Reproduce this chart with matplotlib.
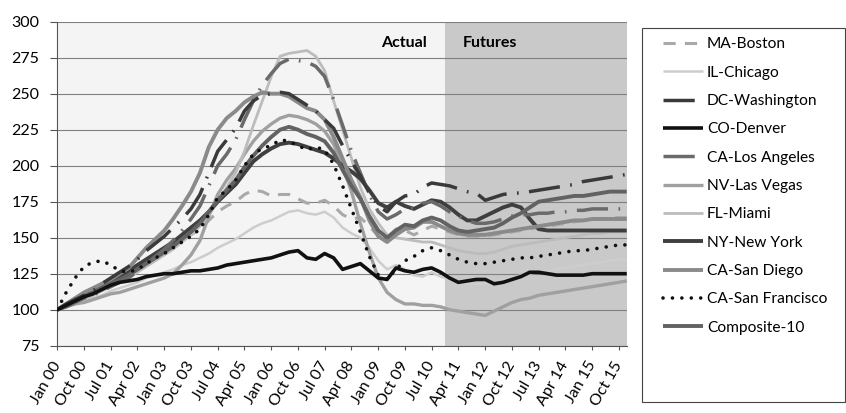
import numpy as np
import pandas as pd
import matplotlib
matplotlib.use("Agg")
import matplotlib.pyplot as plt
from matplotlib.patches import Rectangle

plt.rcParams["font.family"] = ["Lato", "DejaVu Sans"]

# ── Dates: quarterly Jan 2000 .. Oct 2015, last point at the right edge ──────
DATES = list(pd.date_range("2000-01-01", "2015-10-01", freq="QS")) + [pd.Timestamp("2015-12-20")]
FUTURES_START = pd.Timestamp("2010-11-10")
TICK_DATES = pd.date_range("2000-01-01", periods=22, freq="9MS")
TICK_LABELS = [d.strftime("%b %y") for d in TICK_DATES]

# ── Index values (Jan 2000 = 100), one row per year, 4 quarters ──────────────
boston = [100, 104, 108, 111,  114, 118, 121, 124,  127, 131, 134, 137,  140, 144, 148, 152,
          156, 162, 168, 172,  175, 180, 183, 182,  179, 180, 180, 177,  174, 174, 176, 172,
          166, 163, 164, 158,  151, 150, 156, 155,  152, 155, 158, 156,  154, 152, 151, 151,
          151, 152, 153, 154,  155, 156, 157, 158,  159, 160, 161, 162,  163, 163, 164, 164, 164]
chicago = [100, 102, 104, 106,  108, 110, 113, 115,  117, 119, 122, 124,  126, 128, 131, 133,
           136, 139, 143, 146,  149, 153, 157, 160,  162, 165, 168, 169,  167, 166, 168, 164,
           157, 153, 150, 143,  134, 128, 131, 128,  124, 123, 126, 123,  121, 119, 118, 118,
           118, 119, 121, 122,  124, 125, 126, 127,  128, 129, 130, 131,  132, 133, 134, 135, 135]
washington = [100, 104, 107, 110,  113, 118, 122, 126,  130, 135, 141, 146,  151, 157, 163, 170,
              180, 195, 210, 218,  226, 238, 245, 249,  250, 251, 250, 246,  242, 238, 232, 226,
              214, 203, 193, 181,  172, 168, 175, 179,  180, 185, 188, 187,  186, 184, 182, 181,
              176, 178, 180, 181,  181, 182, 183, 184,  185, 186, 187, 189,  190, 191, 192, 193, 194]
denver = [100, 103, 106, 109,  111, 114, 117, 119,  120, 121, 123, 124,  125, 125, 126, 127,
          127, 128, 129, 131,  132, 133, 134, 135,  136, 138, 140, 141,  136, 135, 139, 136,
          128, 130, 132, 127,  122, 121, 129, 127,  126, 128, 129, 126,  122, 119, 120, 121,
          121, 118, 119, 121,  123, 126, 126, 125,  124, 124, 124, 124,  125, 125, 125, 125, 125]
los_angeles = [100, 102, 105, 108,  110, 113, 116, 119,  122, 127, 132, 137,  142, 148, 155, 163,
               172, 186, 200, 208,  218, 232, 245, 256,  264, 271, 274, 273,  272, 269, 262, 246,
               228, 210, 195, 180,  168, 163, 166, 170,  171, 174, 175, 172,  168, 165, 162, 160,
               160, 161, 163, 165,  166, 166, 167, 167,  168, 168, 169, 169,  170, 170, 170, 170, 170]
las_vegas = [100, 102, 104, 105,  107, 109, 111, 112,  114, 116, 118, 120,  122, 125, 131, 138,
             148, 165, 180, 190,  198, 208, 217, 224,  229, 233, 235, 234,  232, 229, 224, 215,
             200, 182, 160, 140,  122, 112, 107, 104,  104, 103, 103, 102,  100, 99, 98, 97,
             96, 99, 102, 105,  107, 108, 110, 111,  112, 113, 114, 115,  116, 117, 118, 119, 120]
miami = [100, 102, 105, 107,  110, 113, 116, 119,  122, 126, 130, 134,  138, 142, 147, 152,
         158, 166, 175, 185,  195, 210, 228, 245,  262, 276, 278, 279,  280, 276, 266, 245,
         225, 205, 185, 170,  160, 152, 150, 149,  148, 147, 147, 145,  143, 141, 140, 139,
         139, 140, 142, 144,  145, 146, 147, 148,  149, 150, 151, 152,  153, 153, 154, 154, 154]
new_york = [100, 103, 107, 110,  112, 116, 120, 123,  127, 131, 135, 139,  143, 147, 152, 157,
            162, 168, 175, 181,  187, 195, 203, 208,  212, 215, 216, 215,  213, 211, 209, 205,
            200, 196, 191, 183,  174, 171, 175, 172,  170, 173, 176, 175,  171, 166, 162, 162,
            165, 168, 171, 173,  171, 163, 156, 155,  155, 155, 155, 155,  155, 155, 155, 155, 155]
san_diego = [100, 104, 108, 112,  115, 118, 121, 125,  129, 136, 143, 149,  155, 163, 172, 182,
             195, 213, 225, 233,  238, 244, 248, 251,  250, 250, 248, 244,  240, 238, 232, 220,
             205, 190, 178, 162,  151, 147, 152, 156,  157, 161, 161, 158,  155, 153, 152, 152,
             152, 153, 154, 155,  156, 157, 158, 159,  160, 161, 162, 162,  163, 163, 163, 163, 163]
san_francisco = [100, 112, 122, 130,  133, 134, 131, 127,  126, 128, 132, 136,  139, 143, 147, 151,
                 156, 166, 178, 183,  190, 200, 208, 212,  214, 218, 217, 214,  211, 213, 211, 201,
                 186, 170, 154, 137,  124, 121, 128, 134,  137, 141, 143, 141,  138, 135, 133, 132,
                 132, 133, 134, 135,  136, 136, 137, 138,  139, 140, 141, 141,  142, 143, 144, 145, 145]
composite_10 = [100, 103, 106, 109,  112, 115, 118, 121,  124, 128, 132, 136,  140, 144, 149, 154,
                160, 168, 176, 183,  190, 199, 207, 214,  220, 225, 227, 225,  222, 220, 217, 209,
                197, 186, 177, 165,  155, 150, 155, 159,  158, 162, 164, 162,  158, 155, 154, 155,
                156, 157, 160, 164,  167, 171, 175, 176,  177, 178, 179, 179,  180, 181, 182, 182, 182]

LONG_DASH_DOT = (9, 3, 0.5, 3)
SERIES = [
    ("MA-Boston",        boston,        dict(color="#a9a9a9", lw=2.2, dashes=(4, 3), zorder=3)),
    ("IL-Chicago",       chicago,       dict(color="#cdcdcd", lw=1.8, zorder=2)),
    ("DC-Washington",    washington,    dict(color="#3a3a3a", lw=2.5, dashes=LONG_DASH_DOT, zorder=6)),
    ("CO-Denver",        denver,        dict(color="#111111", lw=2.6, zorder=7)),
    ("CA-Los Angeles",   los_angeles,   dict(color="#6a6a6a", lw=2.5, dashes=LONG_DASH_DOT, zorder=5)),
    ("NV-Las Vegas",     las_vegas,     dict(color="#a0a0a0", lw=2.4, zorder=3)),
    ("FL-Miami",         miami,         dict(color="#bcbcbc", lw=2.0, zorder=3)),
    ("NY-New York",      new_york,      dict(color="#3f3f3f", lw=2.8, zorder=4)),
    ("CA-San Diego",     san_diego,     dict(color="#8a8a8a", lw=2.8, zorder=4)),
    ("CA-San Francisco", san_francisco, dict(color="#111111", lw=2.6, dashes=(0.01, 2.6),
                                             dash_capstyle="round", zorder=8)),
    ("Composite-10",     composite_10,  dict(color="#626262", lw=2.8, zorder=4)),
]

# ── Figure ───────────────────────────────────────────────────────────────────
W, H = 846, 413
fig = plt.figure(figsize=(W / 100, H / 100), dpi=100)
ax = fig.add_axes([57.3 / W, 1 - 345.7 / H, (626.7 - 57.3) / W, (345.7 - 21.7) / H])
ax.set_facecolor("#f4f4f4")

ax.axvspan(FUTURES_START, DATES[-1], color="#c9c9c9", lw=0, zorder=0.3)
ax.set_axisbelow(True)
ax.yaxis.grid(True, color="#808080", lw=0.8)

for label, values, style in SERIES:
    ax.plot(DATES, values, label=label, solid_capstyle="butt", **style)

ax.set_xlim(DATES[0], DATES[-1])
ax.set_ylim(75, 300)
ax.set_yticks(range(75, 301, 25))
ax.set_xticks(TICK_DATES)
ax.set_xticklabels(TICK_LABELS, rotation=60, ha="right", va="center", rotation_mode="anchor")
ax.tick_params(axis="y", length=5, pad=8, labelsize=11.5, color="#555555")
ax.tick_params(axis="x", length=3, pad=9, labelsize=11.5, color="#555555")
for side in ["top", "right"]:
    ax.spines[side].set_visible(False)
for side in ["left", "bottom"]:
    ax.spines[side].set_color("#555555")
    ax.spines[side].set_linewidth(0.8)

ax.annotate("Actual", xy=(FUTURES_START, 285), xytext=(-13, 0), textcoords="offset points",
            ha="right", va="center", fontsize=11.5, fontweight="bold")
ax.annotate("Futures", xy=(FUTURES_START, 285), xytext=(13, 0), textcoords="offset points",
            ha="left", va="center", fontsize=11.5, fontweight="bold")

# ── Legend in its own box on the right ──────────────────────────────────────
fig.add_artist(Rectangle((641.7 / W, 1 - 401.7 / H), (845 - 641.7) / W, (401.7 - 28) / H,
                         transform=fig.transFigure, fill=False, ec="#444444", lw=0.8))
handles, labels = ax.get_legend_handles_labels()
fig.legend(handles, labels, loc="upper left", bbox_to_anchor=(663 / W, 1 - 37.5 / H),
           frameon=False, fontsize=11.2, handlelength=2.57, handletextpad=0.26,
           labelspacing=0.92, borderpad=0, borderaxespad=0)

fig.savefig("out.png", dpi=100)
